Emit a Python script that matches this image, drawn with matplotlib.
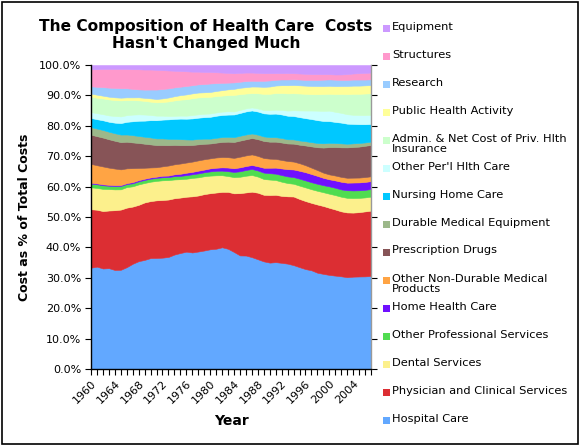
import matplotlib
matplotlib.use("Agg")
import matplotlib.pyplot as plt
from matplotlib.patches import Rectangle
import numpy as np

years = list(range(1960, 2008))

hospital = [33.3,33.8,33.1,33.4,32.8,32.8,33.7,34.8,35.4,35.9, 36.6,36.6,36.7,36.9,37.8,38.5,39.1,38.6,38.8,39.1,
            39.5,39.8,40.2,39.5,38.3,37.4,37.4,36.9,36.1,35.4, 35.1,35.4,35.2,34.9,34.2,33.6,32.9,32.5,31.6,31.1,
            30.7,30.5,30.4,30.2,30.4,30.5,30.5,30.6]
physician = [19.2,18.8,18.9,19.1,19.8,19.9,19.7,18.9,18.5,18.9, 18.8,19.0,19.0,18.9,18.6,18.4,18.3,18.6,18.5,18.6,
             18.5,18.6,18.3,18.7,19.2,20.5,20.8,21.6,21.9,21.9, 22.3,22.3,22.2,22.3,22.6,22.5,22.4,22.2,22.4,22.2,
             21.9,21.6,21.3,21.3,21.1,21.2,21.4,21.5]
dental = [7.2,7.2,7.3,7.1,6.9,6.7,6.8,6.7,6.7,6.4, 6.4,6.4,6.5,6.4,6.2,6.1,6.0,6.1,6.0,5.9,
          5.8,5.7,5.5,5.2,5.3,5.4,5.5,5.5,5.3,5.2, 5.1,4.9,4.7,4.4,4.2,4.4,4.5,4.5,4.5,4.5,
          4.6,4.7,4.8,4.8,4.8,4.7,4.6,4.6]
other_prof = [1.2,1.2,1.2,1.1,1.1,1.1,1.0,1.0,1.0,1.0, 1.0,1.0,1.0,1.0,1.1,1.1,1.2,1.2,1.3,1.3,
              1.4,1.5,1.5,1.6,1.7,1.8,1.9,2.0,2.0,2.1, 2.1,2.1,2.2,2.2,2.2,2.3,2.3,2.3,2.3,2.3,
              2.4,2.4,2.4,2.5,2.5,2.5,2.5,2.5]
home_health = [0.3,0.3,0.3,0.3,0.3,0.3,0.3,0.4,0.4,0.4, 0.4,0.4,0.5,0.5,0.6,0.7,0.8,0.8,0.9,0.9,
               1.0,1.0,1.1,1.2,1.2,1.3,1.3,1.3,1.4,1.6, 1.8,2.0,2.2,2.4,2.5,2.6,2.7,2.7,2.6,2.4,
               2.3,2.4,2.5,2.5,2.6,2.6,2.6,2.6]
other_nondurable = [6.2,6.0,5.9,5.7,5.5,5.2,4.9,4.6,4.0,3.6, 3.3,3.1,3.1,3.3,3.3,3.4,3.4,3.4,3.4,3.4,
                    3.3,3.4,3.4,3.4,3.4,3.5,3.5,3.5,3.4,3.2, 3.0,2.9,2.8,2.7,2.6,2.5,2.3,2.1,1.9,1.7,
                    1.6,1.6,1.6,1.6,1.6,1.6,1.6,1.6]
prescription = [9.6,9.6,9.5,9.4,9.2,9.0,8.8,8.5,8.2,7.9, 7.6,7.3,7.0,6.7,6.4,6.1,5.8,5.5,5.3,5.1,
                4.9,4.9,5.0,5.1,5.2,5.3,5.3,5.4,5.5,5.6, 5.6,5.7,5.8,5.8,5.9,6.1,6.5,7.0,7.5,8.2,
                8.9,9.3,9.7,10.0,10.1,10.2,10.3,10.3]
durable = [2.5,2.5,2.5,2.5,2.5,2.5,2.4,2.4,2.3,2.3, 2.3,2.2,2.2,2.1,2.0,2.0,1.9,1.8,1.8,1.7,
           1.6,1.6,1.6,1.6,1.6,1.6,1.6,1.5,1.5,1.5, 1.5,1.5,1.5,1.4,1.4,1.4,1.4,1.4,1.4,1.4,
           1.4,1.3,1.3,1.2,1.2,1.2,1.1,1.1]
nursing = [3.0,3.1,3.2,3.3,3.5,3.8,4.2,4.6,5.0,5.3, 5.7,6.0,6.2,6.4,6.6,6.8,6.9,7.0,7.0,7.1,
           7.2,7.3,7.3,7.3,7.4,7.5,7.6,7.6,7.6,7.6, 7.7,7.8,7.8,7.8,7.7,7.7,7.6,7.6,7.5,7.3,
           7.1,6.9,6.8,6.6,6.4,6.2,6.0,5.8]
other_perl = [1.9,2.0,2.0,2.1,2.2,2.2,2.2,2.2,2.1,2.0, 1.7,1.5,1.3,1.1,1.0,1.0,1.0,1.1,1.1,1.1,
              1.1,1.1,1.1,1.1,1.0,1.0,1.0,1.0,1.0,1.1, 1.2,1.3,1.5,1.7,1.9,2.2,2.5,2.8,3.1,3.3,
              3.4,3.3,3.2,3.1,3.0,3.0,3.0,3.0]
admin = [5.1,5.1,5.2,5.3,5.3,5.3,5.0,4.8,4.6,4.5, 4.4,4.4,4.5,4.8,5.1,5.3,5.5,5.6,5.6,5.5,
         5.5,5.4,5.3,5.3,5.4,5.2,4.9,4.7,5.0,5.3, 5.4,5.5,5.6,5.7,5.6,5.6,5.5,5.4,5.4,5.5,
         5.5,5.8,6.2,6.6,6.9,7.0,7.1,7.1]
public_health = [1.0,1.0,0.9,0.9,0.9,0.9,0.9,0.9,1.0,1.0, 1.1,1.1,1.2,1.3,1.4,1.5,1.6,1.6,1.6,1.6,
                 1.6,1.7,1.8,1.9,2.0,2.1,2.1,2.2,2.2,2.3, 2.4,2.5,2.6,2.7,2.7,2.7,2.7,2.7,2.7,2.6,
                 2.6,2.6,2.6,2.7,2.7,2.7,2.7,2.7]
research = [2.4,2.6,2.8,3.0,3.1,3.1,3.0,2.8,2.6,2.7, 2.9,3.1,3.1,3.0,2.9,2.8,2.8,2.7,2.7,2.7,
            2.8,2.6,2.4,2.2,2.1,2.0,2.0,1.9,1.9,2.0, 2.0,1.9,1.9,1.9,1.9,1.9,1.9,2.0,2.0,2.1,
            2.1,2.1,2.0,2.0,2.0,2.0,1.9,1.9]
structures = [5.6,5.8,6.0,6.2,6.3,6.4,6.4,6.5,6.6,6.6, 6.6,6.5,6.2,5.9,5.5,5.2,4.9,4.5,4.2,4.0,
              3.8,3.6,3.4,3.2,3.0,2.9,2.8,2.7,2.6,2.5, 2.4,2.2,2.1,2.1,2.0,2.0,2.0,1.9,1.9,1.8,
              1.7,1.7,1.8,1.9,2.0,2.1,2.2,2.2]
equipment = [1.4,1.4,1.3,1.3,1.3,1.3,1.3,1.4,1.4,1.5, 1.5,1.6,1.7,1.8,1.9,2.0,2.1,2.2,2.2,2.3,
             2.3,2.4,2.5,2.6,2.7,2.6,2.5,2.5,2.6,2.7, 2.7,2.7,2.7,2.7,2.7,2.8,2.9,3.0,3.0,3.0,
             3.0,3.1,3.1,3.0,2.8,2.7,2.6,2.5]

series_names = ["Hospital Care", "Physician and Clinical Services", "Dental Services",
                "Other Professional Services", "Home Health Care", "Other Non-Durable Medical\nProducts",
                "Prescription Drugs", "Durable Medical Equipment", "Nursing Home Care",
                "Other Per'l Hlth Care", "Admin. & Net Cost of Priv. Hlth\nInsurance",
                "Public Health Activity", "Research", "Structures", "Equipment"]
series_values = [hospital, physician, dental, other_prof, home_health, other_nondurable,
                 prescription, durable, nursing, other_perl, admin, public_health,
                 research, structures, equipment]
colors = ["#62A8FF", "#DC2E33", "#FCF08C", "#50DC50", "#7010FF", "#FFA444",
          "#875457", "#9CB88A", "#00C8FF", "#CCFFFF", "#CCFFCC",
          "#FFFF99", "#99CCFF", "#FF99CC", "#CC99FF"]
tick_years = list(range(1960, 2005, 4))

W, H = 579, 445
fig = plt.figure(figsize=(W / 100, H / 100), dpi=100)
ax = fig.add_axes([91 / W, 76 / H, 280 / W, 304 / H])

data = np.array(series_values, dtype=float)
data = data / data.sum(axis=0) * 100.0
polys = ax.stackplot(years, *data, colors=colors, linewidth=0)
for p, c in zip(polys, colors):
    p.set_edgecolor(c)
    p.set_linewidth(0.4)

ax.set_xlim(1960, 2007)
ax.set_ylim(0, 100)
ax.set_yticks(np.arange(0, 101, 10))
ax.set_yticklabels([f"{v:.1f}%" for v in np.arange(0, 101, 10)], fontsize=8)
ax.set_xticks(tick_years)
ax.set_xticks(years, minor=True)
ax.set_xticklabels([str(y) for y in tick_years], rotation=45, ha="right",
                   rotation_mode="anchor", fontsize=8)
ax.tick_params(axis="x", which="both", direction="out", length=4, width=0.8, pad=3)
ax.tick_params(axis="y", which="both", direction="out", length=4, width=0.8, pad=3,
               right=True)
for side in ["left", "bottom"]:
    ax.spines[side].set_color("black")
    ax.spines[side].set_linewidth(1.0)
ax.spines["top"].set_visible(False)
ax.spines["right"].set_color("#999999")
ax.spines["right"].set_linewidth(1.0)

ax.set_xlabel("Year", fontsize=10, fontweight="bold", labelpad=6)
ax.set_ylabel("Cost as % of Total Costs", fontsize=9, fontweight="bold", labelpad=6)

fig.text(206 / W, 1 - 35 / H, "The Composition of Health Care  Costs\nHasn't Changed Much",
         ha="center", va="center", fontsize=11.1, fontweight="bold", linespacing=1.22)

# legend (top entry = last series)
for i, idx in enumerate(range(len(series_names) - 1, -1, -1)):
    yc = 28 + 28 * i
    fig.add_artist(Rectangle((383 / W, 1 - (yc + 3.5) / H), 7 / W, 7 / H,
                             transform=fig.transFigure, facecolor=colors[idx],
                             edgecolor="none"))
    fig.text(392 / W, 1 - (yc - 6.5) / H, series_names[idx], ha="left", va="top",
             fontsize=8.2, linespacing=1.1)

fig.add_artist(Rectangle((1.5 / W, 1.5 / H), (W - 3) / W, (H - 3) / H,
                         transform=fig.transFigure, facecolor="none",
                         edgecolor="black", linewidth=1.2))

fig.savefig("out.png", dpi=100)
